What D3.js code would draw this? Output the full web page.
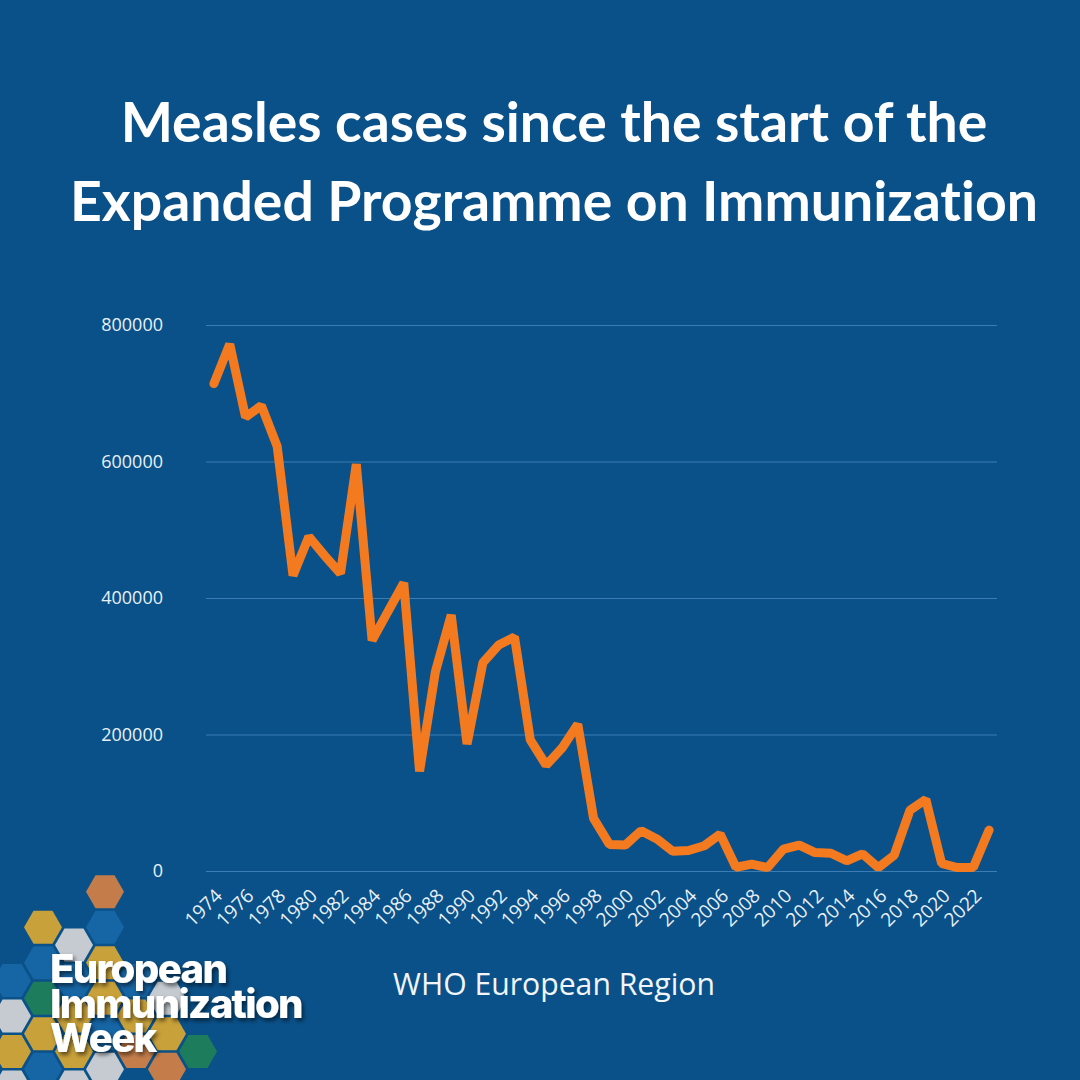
<!DOCTYPE html>
<html>
<head>
<meta charset="utf-8">
<script src="https://cdn.jsdelivr.net/npm/d3@7"></script>
<style>
  html, body { margin: 0; padding: 0; background: #0a5189; }
  svg { display: block; }
  text { font-variant-ligatures: none; font-feature-settings: "liga" 0, "clig" 0; }
</style>
</head>
<body>
<svg id="chart" width="1080" height="1080"></svg>
<script>
// ---------- DATA ----------
const years = [1974,1975,1976,1977,1978,1979,1980,1981,1982,1983,
               1984,1985,1986,1987,1988,1989,1990,1991,1992,1993,
               1994,1995,1996,1997,1998,1999,2000,2001,2002,2003,
               2004,2005,2006,2007,2008,2009,2010,2011,2012,2013,
               2014,2015,2016,2017,2018,2019,2020,2021,2022,2023];
const cases = [714000,772000,665000,682000,622000,433000,490000,462000,436000,596000,
               338000,380000,422000,146000,292000,375000,186000,305000,331000,343000,
               192000,155000,180000,215000,77000,39000,38000,59000,47000,29000,
               30000,37000,54000,5500,10000,5000,32000,38000,27000,26000,
               15000,25000,5000,23000,89000,105000,11000,5000,5000,60000];
const yTicks = [0, 200000, 400000, 600000, 800000];
const xTickYears = [1974,1976,1978,1980,1982,1984,1986,1988,1990,1992,1994,1996,1998,
                    2000,2002,2004,2006,2008,2010,2012,2014,2016,2018,2020,2022];
const titleLines = ["Measles cases since the start of the", "Expanded Programme on Immunization"];
const subtitle = "WHO European Region";
const logoLines = ["European", "Immunization", "Week"];
// logo honeycomb cells: [column, row, colour key]
const logoCells = [
  [-1,2,"o"],
  [0,3,"b"],[0,4,"g"],[0,5,"y"],[0,6,"g"],
  [1,1,"y"],[1,2,"b"],[1,3,"e"],[1,4,"y"],[1,5,"b"],
  [2,2,"g"],[2,3,"b"],[2,4,"y"],[2,5,"y"],[2,6,"g"],
  [3,0,"o"],[3,1,"b"],[3,2,"y"],[3,3,"y"],[3,4,"b"],[3,5,"g"],
  [4,3,"b"],[4,4,"y"],[4,5,"o"],
  [5,3,"g"],[5,4,"y"],[5,5,"o"],
  [6,5,"e"]
];
const logoColors = { o: "#c47d4a", b: "#1665a4", y: "#c9a13a", g: "#c5cbd1", e: "#1d7c5c" };

// ---------- LAYOUT ----------
const svg = d3.select("#chart");
const W = 1080, H = 1080;
const plot = { left: 206, right: 997, top: 325, bottom: 871 };
const tickFont = "'Open Sans', 'Noto Sans', sans-serif";

svg.append("rect").attr("width", W).attr("height", H).attr("fill", "#0a5189");

// ---------- LOGO ----------
const defs = svg.append("defs");
const f = defs.append("filter").attr("id", "shadow").attr("x", "-20%").attr("y", "-20%").attr("width", "140%").attr("height", "160%");
f.append("feDropShadow").attr("dx", 2).attr("dy", 3).attr("stdDeviation", 2.2)
  .attr("flood-color", "#000").attr("flood-opacity", 0.55);

const hexR = 19, colDx = 31, rowDy = 35.5, hx0 = 12, hy0 = 874;
const hexPts = d3.range(6).map(i => {
  const a = Math.PI / 3 * i;
  return [hexR * Math.cos(a), hexR * Math.sin(a)];
});
const logoG = svg.append("g");
logoG.selectAll("path.hex").data(logoCells).join("path")
  .attr("class", "hex")
  .attr("transform", d => {
    const cx = hx0 + d[0] * colDx;
    const cy = hy0 + d[1] * rowDy + (Math.abs(d[0]) % 2 === 1 ? rowDy / 2 : 0);
    return `translate(${cx},${cy})`;
  })
  .attr("d", "M" + hexPts.map(p => p.join(",")).join("L") + "Z")
  .attr("fill", d => logoColors[d[2]]);

const logoBase = [983, 1018, 1052];
const logoText = logoG.append("text")
  .attr("filter", "url(#shadow)")
  .attr("fill", "#ffffff")
  .style("font-family", "Inter, 'Open Sans', sans-serif")
  .style("font-weight", 800)
  .style("font-size", "38px")
  .style("letter-spacing", "-1.6px");
const lt = logoText.selectAll("tspan").data(logoLines).join("tspan")
  .attr("x", 50)
  .attr("y", (d, i) => logoBase[i])
  .text(d => d);
{
  const w = lt.nodes()[1].getComputedTextLength();
  const fs = 38 * 252 / w;
  logoText.style("font-size", fs + "px").style("letter-spacing", (-1.6 * fs / 38) + "px");
}

// ---------- TITLE ----------
const titleG = svg.append("g");
const tBase = [142, 221];
const tt = titleG.selectAll("text").data(titleLines).join("text")
  .attr("x", 554)
  .attr("y", (d, i) => tBase[i])
  .attr("text-anchor", "middle")
  .attr("fill", "#ffffff")
  .style("font-family", "Lato, 'Open Sans', sans-serif")
  .style("font-weight", 700)
  .style("font-size", "56px")
  .text(d => d);
{
  const w = tt.nodes()[1].getComputedTextLength();
  const fs = 56 * 968 / w;
  tt.style("font-size", fs + "px");
}

// ---------- SCALES ----------
const x = d3.scalePoint().domain(years).range([plot.left, plot.right]).padding(0.5);
const y = d3.scaleLinear().domain([0, 800000]).range([plot.bottom, plot.top]);

// gridlines + y labels
const yAxis = d3.axisLeft(y).tickValues(yTicks).tickSize(-(plot.right - plot.left)).tickPadding(43)
  .tickFormat(d3.format("d"));
const yG = svg.append("g").attr("transform", `translate(${plot.left},0)`).call(yAxis);
yG.select(".domain").remove();
yG.selectAll(".tick line").attr("stroke", "#3b7cb2").attr("stroke-width", 1);
yG.selectAll(".tick text")
  .attr("fill", "#e8f0f7")
  .style("font-family", tickFont)
  .style("font-weight", 400)
  .style("font-size", "18px");

// x labels
const xAxis = d3.axisBottom(x).tickValues(xTickYears).tickSize(0).tickPadding(0);
const xG = svg.append("g").attr("transform", `translate(0,${plot.bottom})`).call(xAxis);
xG.select(".domain").remove();
xG.selectAll(".tick text")
  .attr("y", 0).attr("dy", 0)
  .attr("transform", "translate(9,26) rotate(-45)")
  .attr("text-anchor", "end")
  .attr("fill", "#e8f0f7")
  .style("font-family", tickFont)
  .style("font-weight", 400)
  .style("font-size", "19px");

// line
const line = d3.line().x((d, i) => x(years[i])).y(d => y(d));
svg.append("path")
  .datum(cases)
  .attr("d", line)
  .attr("fill", "none")
  .attr("stroke", "#f47a20")
  .attr("stroke-width", 9)
  .attr("stroke-linejoin", "bevel")
  .attr("stroke-linecap", "round");

// subtitle
const st = svg.append("text")
  .attr("x", 554).attr("y", 995)
  .attr("text-anchor", "middle")
  .attr("fill", "#f2f6fa")
  .style("font-family", tickFont)
  .style("font-weight", 400)
  .style("font-size", "28px")
  .text(subtitle);
{
  const w = st.node().getComputedTextLength();
  st.style("font-size", (28 * 322 / w) + "px");
}
</script>
</body>
</html>
